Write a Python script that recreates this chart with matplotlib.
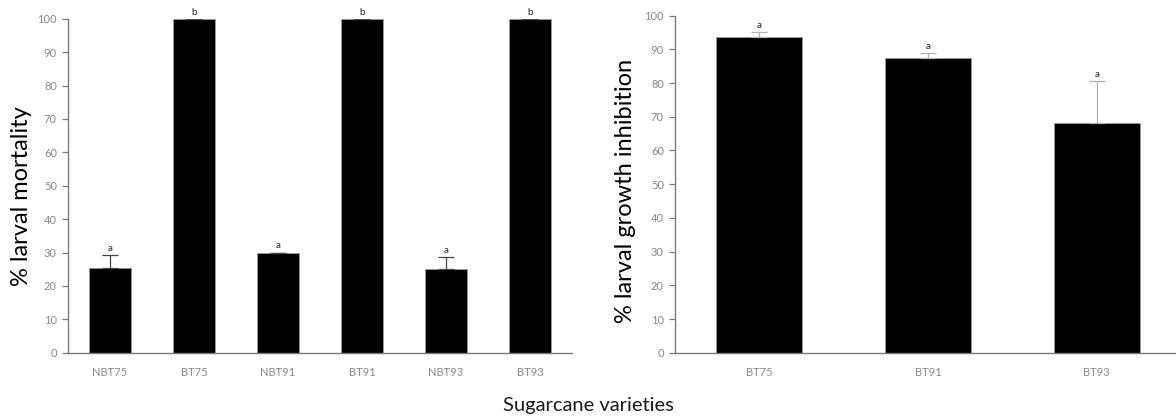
import matplotlib
matplotlib.use("Agg")
import numpy as np
import matplotlib.pyplot as plt

# left panel: mortality
mort_labels = ["NBT75", "BT75", "NBT91", "BT91", "NBT93", "BT93"]
mort_values = [25.3, 100, 30.0, 100, 25.0, 100]
mort_err = [4.0, 0, 0, 0, 3.7, 0]
mort_letters = ["a", "b", "a", "b", "a", "b"]

# right panel: growth inhibition
inhib_labels = ["BT75", "BT91", "BT93"]
inhib_values = [93.7, 87.4, 68.3]
inhib_err = [1.4, 1.5, 12.4]
inhib_letters = ["a", "a", "a"]

plt.rcParams["font.family"] = ["Lato", "DejaVu Sans"]

TICK_GREY = "#888888"
AXIS_GREY = "#7a7a7a"


def draw_panel(ax, labels, values, errs, letters, ylabel, err_color):
    x = np.arange(len(labels))
    ax.bar(x, values, width=0.51, color="black", edgecolor="#9a9a9a",
           linewidth=0.6, zorder=2)
    ax.errorbar(x, values, yerr=[np.zeros(len(errs)), errs], fmt="none",
                ecolor=err_color, elinewidth=0.9, capsize=6, capthick=0.9,
                zorder=3)
    for xi, v, e, let in zip(x, values, errs, letters):
        ax.text(xi, v + e + 0.6, let, ha="center", va="bottom",
                fontsize=7, color="#222222")

    ax.set_xlim(-0.5, len(labels) - 0.5)
    ax.set_ylim(0, 100)
    ax.set_yticks(range(0, 101, 10))
    ax.set_xticks(x)
    ax.set_xticklabels(labels)
    ax.tick_params(axis="y", direction="out", length=4, width=0.9,
                   color=AXIS_GREY, labelcolor=TICK_GREY, labelsize=8, pad=4)
    ax.tick_params(axis="x", length=0, labelcolor=TICK_GREY, labelsize=8,
                   pad=10)
    for side in ["top", "right"]:
        ax.spines[side].set_visible(False)
    for side in ["left", "bottom"]:
        ax.spines[side].set_color(AXIS_GREY)
        ax.spines[side].set_linewidth(1.0)
    ax.set_ylabel(ylabel, fontsize=17, color="black")


fig = plt.figure(figsize=(11.76, 4.2), dpi=100)
ax1 = fig.add_axes([68 / 1176, 1 - 352.7 / 420, 504 / 1176, 334 / 420])
ax2 = fig.add_axes([675 / 1176, 1 - 352.7 / 420, 506 / 1176, 337 / 420])

draw_panel(ax1, mort_labels, mort_values, mort_err, mort_letters,
           "% larval mortality", "#444444")
draw_panel(ax2, inhib_labels, inhib_values, inhib_err, inhib_letters,
           "% larval growth inhibition", "#b0b0b0")

# label centres at about x=22 (left) and x=625 (right) in pixels
ax1.yaxis.set_label_coords((22 - 68) / 504, 0.47)
ax2.yaxis.set_label_coords((625 - 675) / 506, 0.48)
ax1.yaxis.label.set_va("center")
ax2.yaxis.label.set_va("center")

fig.text(0.5, 1 - 405 / 420, "Sugarcane varieties", ha="center",
         va="center", fontsize=14.5, color="#1a1a1a")

fig.savefig("out.png", dpi=100)
